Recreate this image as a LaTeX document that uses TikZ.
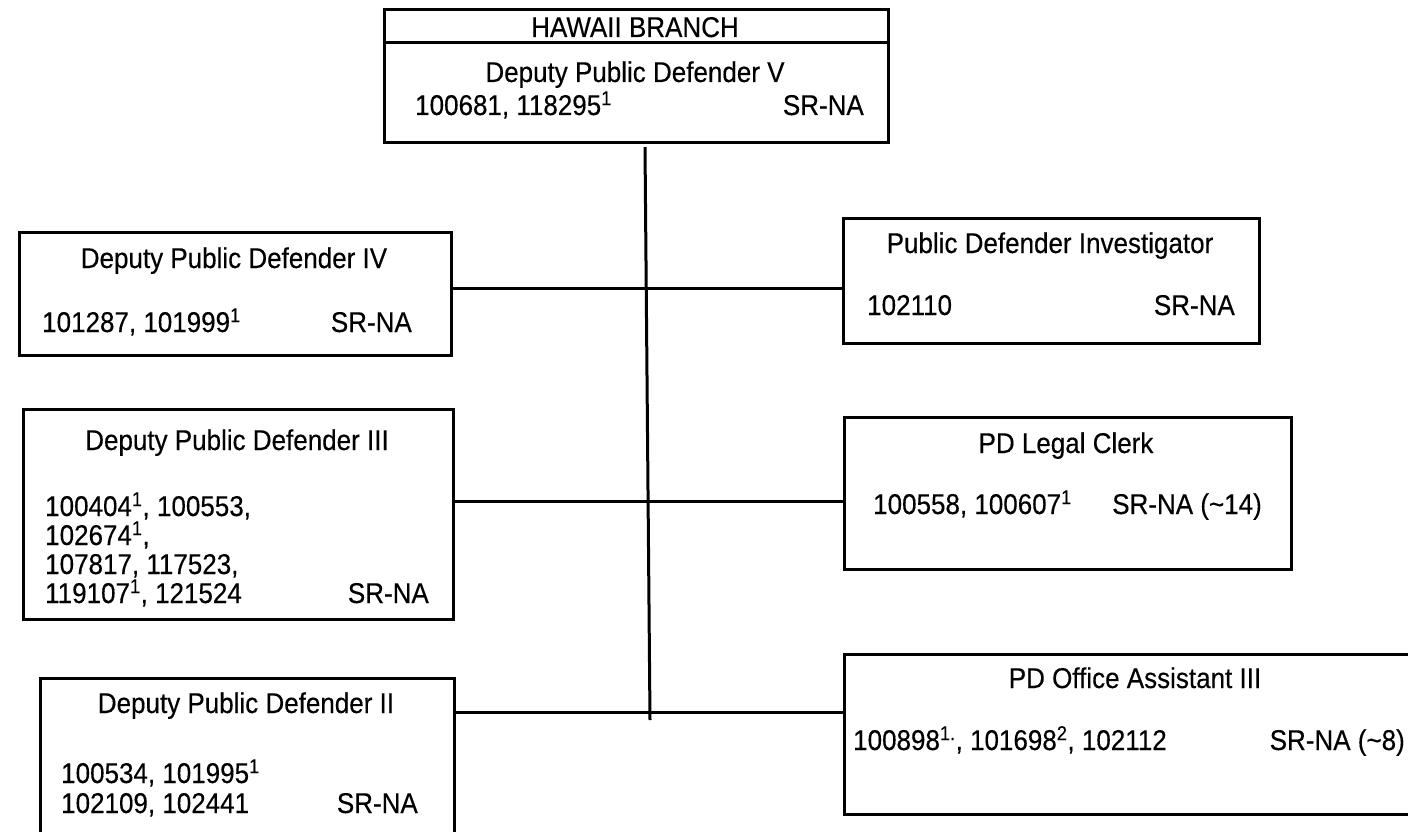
\documentclass[tikz,border=0pt]{standalone}
\usepackage{fontspec}
\setmainfont{Liberation Sans}
\newfontfamily\scanfont{Liberation Sans}[FakeBold=0.35]
\newcommand{\stretchtxt}[1]{\scalebox{1}[1.1]{#1}}
\begin{document}
\begin{tikzpicture}[x=1pt,y=-1pt,
  box/.style={draw, line width=3pt, rectangle, inner sep=0pt, anchor=north west},
  conn/.style={line width=3pt},
  txt/.style={inner sep=0pt, font=\scanfont\fontsize{26}{31}\selectfont},
]
\useasboundingbox (0,0) rectangle (1408,832);
\fill[white] (0,0) rectangle (1408,832);
\begin{scope}
\clip (0,0) rectangle (1408,832);
% boxes
\node[box, minimum width=504pt, minimum height=133pt] (top) at (383,8) {};
\node[box, minimum width=432pt, minimum height=123pt] (dpd4) at (18,231) {};
\node[box, minimum width=416pt, minimum height=125pt] (pdi) at (842,217) {};
\node[box, minimum width=430pt, minimum height=210pt] (dpd3) at (22,408) {};
\node[box, minimum width=447pt, minimum height=152pt] (clerk) at (843,416) {};
\node[box, minimum width=414pt, minimum height=200pt] (dpd2) at (39,677) {};
\node[box, minimum width=600pt, minimum height=160pt] (oa3) at (843,653) {};
% divider in top box
\coordinate (div) at (383,43);
\draw[conn] (top.west |- div) -- (top.east |- div);
% trunk
\coordinate (vtop) at (645,147);
\coordinate (vbot) at (650,720);
\draw[conn] (vtop) -- (vbot);
% connectors
\coordinate (j1) at (646,288);
\coordinate (j2) at (648,501);
\coordinate (j3) at (649,712);
\draw[conn] (dpd4.east |- j1) -- (j1) -- (pdi.west |- j1);
\draw[conn] (dpd3.east |- j2) -- (j2) -- (clerk.west |- j2);
\draw[conn] (dpd2.east |- j3) -- (j3) -- (oa3.west |- j3);
% texts: top
\node[txt, anchor=base] (t1) at (635,37) {\stretchtxt{HAWAII BRANCH}};
\node[txt, anchor=base] (t2) at (635,82) {\stretchtxt{Deputy Public Defender V}};
\node[txt, anchor=base west] (t3) at (415,115) {\stretchtxt{100681, 118295\textsuperscript{1}}};
\node[txt, anchor=base east] (t4) at (864,115) {\stretchtxt{SR-NA}};
% dpd4
\node[txt, anchor=base] (a1) at (234,268) {\stretchtxt{Deputy Public Defender IV}};
\node[txt, anchor=base west] (a2) at (42,332) {\stretchtxt{101287, 101999\textsuperscript{1}}};
\node[txt, anchor=base east] (a3) at (412,332) {\stretchtxt{SR-NA}};
% pdi
\node[txt, anchor=base] (b1) at (1050,253) {\stretchtxt{Public Defender Investigator}};
\node[txt, anchor=base west] (b2) at (867,315) {\stretchtxt{102110}};
\node[txt, anchor=base east] (b3) at (1235,315) {\stretchtxt{SR-NA}};
% dpd3
\node[txt, anchor=base] (c1) at (237,450) {\stretchtxt{Deputy Public Defender III}};
\node[txt, anchor=base west] (c2) at (45,516) {\stretchtxt{100404\textsuperscript{1}, 100553,}};
\node[txt, anchor=base west] (c3) at (45,545) {\stretchtxt{102674\textsuperscript{1},}};
\node[txt, anchor=base west] (c4) at (45,574) {\stretchtxt{107817, 117523,}};
\node[txt, anchor=base west] (c5) at (45,603) {\stretchtxt{119107\textsuperscript{1}, 121524}};
\node[txt, anchor=base east] (c6) at (429,603) {\stretchtxt{SR-NA}};
% clerk
\node[txt, anchor=base] (d1) at (1066,453) {\stretchtxt{PD Legal Clerk}};
\node[txt, anchor=base west] (d2) at (873,514) {\stretchtxt{100558, 100607\textsuperscript{1}}};
\node[txt, anchor=base east] (d3) at (1262,514) {\stretchtxt{SR-NA (\textasciitilde14)}};
% dpd2
\node[txt, anchor=base] (e1) at (246,713) {\stretchtxt{Deputy Public Defender II}};
\node[txt, anchor=base west] (e2) at (61,783) {\stretchtxt{100534, 101995\textsuperscript{1}}};
\node[txt, anchor=base west] (e3) at (61,813) {\stretchtxt{102109, 102441}};
\node[txt, anchor=base east] (e4) at (418,813) {\stretchtxt{SR-NA}};
% oa3
\node[txt, anchor=base] (f1) at (1135,688) {\stretchtxt{PD Office Assistant III}};
\node[txt, anchor=base west] (f2) at (853,750) {\stretchtxt{100898\textsuperscript{1.}, 101698\textsuperscript{2}, 102112}};
\node[txt, anchor=base east] (f3) at (1405,750) {\stretchtxt{SR-NA (\textasciitilde8)}};
\end{scope}
\end{tikzpicture}
\end{document}
